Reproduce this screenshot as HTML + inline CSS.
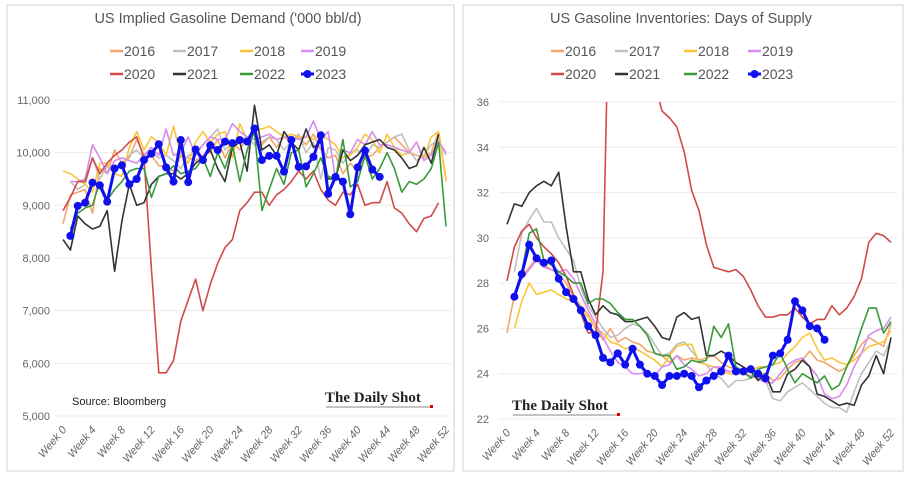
<!DOCTYPE html>
<html><head><meta charset="utf-8">
<style>
body{margin:0;background:#fff;width:909px;height:480px;overflow:hidden;font-family:"Liberation Sans",sans-serif;}
svg{position:absolute;left:0;top:0}
</style></head>
<body>
<svg id="chart" width="909" height="480" viewBox="0 0 909 480"></svg>
<script>
const weeks = Array.from({length:53},(_,i)=>i);
const tickWeeks = [0,4,8,12,16,20,24,28,32,36,40,44,48,52];
const years = ["2016","2017","2018","2019","2020","2021","2022","2023"];
const colors = {"2016":"#f4a56a","2017":"#c0c0c0","2018":"#f9c53a","2019":"#d98cf0","2020":"#d04a4a","2021":"#333333","2022":"#3a9a3a","2023":"#1010ee"};
// Demand ('000 bbl/d), index = week
const d2016=[8650,9200,9250,9300,8850,9700,9600,10050,9800,9900,10250,9950,9950,9750,9750,9650,9950,9900,9850,9950,10000,10250,9900,10200,10050,10300,10150,10150,10300,10100,10300,10200,10300,10150,10350,10050,9900,9950,9600,9800,9650,9900,9950,10100,10200,10300,10150,10000,9950,9900,10000,10400,9500];
const d2017=[null,9450,9300,9400,9900,9500,9750,9600,9800,9950,10050,9900,10000,9900,9950,9850,9700,9950,10000,10150,10300,10450,10050,10200,10250,10300,10150,10200,10300,10250,10050,10200,10350,10000,10200,9500,10100,10050,9800,10000,10050,9900,10150,10100,10200,10300,10350,10050,9850,9950,10150,10250,9950];
const d2018=[9650,9600,9500,9400,9250,9800,9800,9600,9550,10100,10400,10050,10300,10200,9950,10500,9950,9800,10200,10400,10200,10350,10400,9900,10550,10250,10450,10450,10500,10400,10300,10350,10300,10300,10250,10350,10250,10150,9900,9950,10100,10350,10250,10000,10350,10100,9950,10000,10200,9900,10300,10400,9450];
const d2019=[null,9450,9450,9500,10150,9900,9600,9850,9900,9850,9800,9950,10100,9950,10450,9950,10000,10300,9950,10150,10300,10250,10250,10550,10400,10300,10250,10300,10350,10250,10300,10300,10250,10300,10600,10250,10400,9500,10050,10000,10250,10150,10400,10150,10150,10100,10050,10000,10200,9850,9950,10200,10000];
const d2020=[8900,9150,9450,9450,9900,9600,9800,9950,10050,10200,10300,9900,7800,5820,5820,6050,6800,7200,7600,7000,7500,7900,8200,8350,8900,9050,9250,9250,9000,9200,9300,9450,9650,9500,9650,9300,9100,9000,9250,9200,9400,9000,9050,9050,9450,8950,8850,8650,8500,8750,8800,9050,null];
const d2021=[8350,8150,8800,8650,8550,8600,8900,7750,8700,9400,9000,9050,9400,9550,9600,9600,9500,9600,9800,9900,10050,9700,9450,10100,10200,9650,10900,10050,10150,9950,10400,10200,10050,10450,10100,10200,9500,9500,10050,9850,9950,10150,10200,10250,10100,10050,9900,9700,9750,10100,9800,10350,null];
const d2022=[null,8550,8850,8950,9000,9450,9100,9300,9450,9650,9700,9700,9150,9550,9600,9750,9600,9650,9700,9900,9550,10000,9700,10150,9450,10050,10400,8900,9300,9700,9400,10000,10050,9350,9600,9900,9550,9500,10250,9350,9450,9950,9500,9700,10000,9700,9250,9450,9400,9500,9700,10200,8600];
const d2023=[null,8420,8990,9050,9430,9380,9070,9700,9760,9400,9500,9860,9980,10160,9720,9450,10240,9440,10060,9860,10140,10050,10210,10180,10240,10210,10460,9860,9940,9940,9640,10240,9730,9740,9920,10330,9220,9540,9450,8830,9720,10040,9680,9540];
// Days of supply
const s2016=[25.8,27.5,28.3,28.7,29.1,28.8,28.6,28.4,28.0,27.4,27.0,26.6,26.0,25.5,26.0,25.4,25.6,25.4,25.3,25.0,24.9,24.8,24.5,24.8,24.6,24.7,24.6,24.7,24.8,24.5,24.3,24.2,24.0,23.9,24.0,24.0,23.7,23.8,24.2,24.5,24.6,25.0,24.6,24.5,24.3,24.1,24.3,24.8,25.3,25.6,25.4,25.2,26.2];
const s2017=[null,28.5,30.2,30.8,31.3,30.7,30.7,30.0,29.5,29.0,27.8,27.0,26.5,26.0,25.6,25.7,26.0,26.2,26.1,25.8,25.3,24.8,24.9,25.3,25.4,25.0,24.6,24.4,24.0,23.8,23.4,23.7,23.7,23.8,23.9,23.7,22.9,22.8,23.2,23.4,23.6,23.3,23.0,22.7,22.5,22.5,22.3,23.2,24.0,24.5,25.0,24.8,25.5];
const s2018=[null,26.0,27.2,28.0,27.5,27.6,27.7,27.5,27.3,27.2,26.8,26.5,26.0,25.8,25.4,25.3,25.1,25.2,25.0,24.8,24.6,24.3,24.8,25.2,25.3,25.3,24.5,24.4,24.3,24.2,24.0,24.0,24.0,24.1,24.3,24.3,24.4,24.5,24.9,25.2,25.6,25.8,25.1,24.6,24.7,24.5,24.4,24.6,24.9,25.2,25.3,25.4,25.9];
const s2019=[null,27.6,28.2,28.6,29.0,28.7,28.6,28.5,28.6,28.2,27.5,26.8,26.2,25.6,25.0,24.5,24.3,24.0,24.0,24.1,23.9,24.3,24.4,24.8,24.4,24.2,23.9,24.0,24.3,24.3,24.1,24.1,24.0,23.9,23.8,23.6,23.6,24.0,24.4,24.6,24.7,24.3,23.9,23.1,22.9,23.0,23.5,24.3,24.9,25.7,25.9,26.0,26.5];
const s2020=[28.1,29.6,30.3,30.6,30.0,29.6,29.3,28.9,28.3,27.5,26.7,25.8,25.8,28.5,44,45,46,45,44,42,36.8,35.6,35.3,34.9,33.8,32.1,31.2,29.7,28.7,28.6,28.5,28.6,28.3,27.7,27.0,26.5,26.5,26.6,26.6,26.9,26.5,26.2,26.4,26.4,27.0,26.6,26.9,27.4,28.2,29.8,30.2,30.1,29.8];
const s2021=[30.6,31.5,31.4,32.0,32.3,32.5,32.3,32.9,30.5,28.5,28.5,27.3,26.6,27.0,26.7,26.6,26.3,26.3,26.4,26.5,26.1,25.6,25.5,26.5,26.7,26.4,26.5,24.8,24.8,25.0,24.8,24.5,24.3,24.1,23.7,24.0,23.2,23.2,24.0,24.2,24.6,24.3,23.1,23.0,22.8,22.6,22.7,22.6,23.5,23.9,24.8,24.0,25.6];
const s2022=[null,27.5,28.5,30.2,30.4,29.0,28.8,28.5,28.3,28.0,28.0,27.1,27.3,27.3,27.1,26.7,26.4,26.4,26.1,25.7,24.9,24.8,24.8,24.2,24.3,24.6,24.5,24.6,26.1,25.6,26.2,24.3,24.1,23.8,24.2,24.3,24.4,24.9,24.2,23.6,24.0,23.8,23.6,23.9,23.3,23.5,24.3,25.0,26.0,26.9,26.9,25.8,26.3];
const s2023=[null,27.4,28.4,29.7,29.1,28.9,29.0,28.2,27.6,27.3,26.8,26.1,25.7,24.7,24.5,24.9,24.4,25.1,24.4,24.0,23.9,23.5,23.9,23.9,24.0,23.9,23.4,23.7,23.9,24.1,24.8,24.1,24.1,24.2,24.0,23.8,24.8,24.9,25.5,27.2,26.8,26.1,26.0,25.5];
const demandTicks=[5000,6000,7000,8000,9000,10000,11000];
const supplyTicks=[22,24,26,28,30,32,34,36];

const NS="http://www.w3.org/2000/svg";
const svg=document.getElementById('chart');
function mk(tag,attrs,parent){const e=document.createElementNS(NS,tag);for(const k in attrs)e.setAttribute(k,attrs[k]);(parent||svg).appendChild(e);return e;}

function panel(cfg){
  const g=mk('g',{});
  
  
  const border=mk('rect',{x:cfg.bx,y:5,width:cfg.bw,height:466,fill:'#fff',stroke:'#d9d9d9','stroke-width':1.2},g);
  
  
  const xs=w=>cfg.x0+(cfg.x1-cfg.x0)*w/52;
  const ys=v=>cfg.y1+(cfg.y0-cfg.y1)*(v-cfg.vmin)/(cfg.vmax-cfg.vmin);
  const t=mk('text',{x:cfg.tx,y:23,'text-anchor':'middle','font-size':14.5,fill:'#555'},g);t.textContent=cfg.title;
  
  
  // grid + y ticks
  cfg.ticks.forEach(v=>{
    const gl=mk('line',{x1:cfg.x0-8,x2:cfg.x1+6,y1:ys(v),y2:ys(v),stroke:'#ececec','stroke-width':1},g);
    
    
    const tl=mk('text',{x:cfg.ylx,y:ys(v)+4,'text-anchor':'end','font-size':11,fill:'#666'},g);
    tl.textContent=cfg.fmt(v);
    
    
  });
  tickWeeks.forEach(w=>{
    const x=xs(w),y=ys(cfg.vmin)+14;
    const tl=mk('text',{x:x+4,y:y,'text-anchor':'end','font-size':11,'font-style':'italic',fill:'#666',transform:`rotate(-50 ${x+4} ${y})`},g);
    tl.textContent='Week '+w;
    
    
  });
  // clip
  const cp=mk('clipPath',{id:'clip'+cfg.name},g);
  mk('rect',{x:cfg.x0-5,y:ys(cfg.vmax),width:cfg.x1-cfg.x0+10,height:ys(cfg.vmin)-ys(cfg.vmax)},cp);
  const sg=mk('g',{'clip-path':`url(#clip${cfg.name})`},g);
  years.forEach((yr,i)=>{
    const data=cfg.data[i];
    let d='',pen=false;
    data.forEach((v,w)=>{ if(v==null){pen=false;return;} d+=(pen?'L':'M')+xs(w).toFixed(1)+','+ys(v).toFixed(1); pen=true;});
    const p=mk('path',{d:d,fill:'none',stroke:colors[yr],'stroke-width':yr==='2023'?3:1.6,'stroke-linejoin':'round'},sg);
    
    
    if(yr==='2023'){
      data.forEach((v,w)=>{ if(v==null)return;
        const c=mk('circle',{cx:xs(w),cy:ys(v),r:4,fill:colors[yr]},sg);
        
        
      });
    }
  });
  // legend
  years.forEach((yr,i)=>{
    const col=i%4,row=Math.floor(i/4);
    const lx=cfg.lx[col],ly=row?79:56;
    const lg=mk('g',{},g);
    
    
    mk('line',{x1:lx,x2:lx+13,y1:ly-5,y2:ly-5,stroke:colors[yr],'stroke-width':yr==='2023'?3:2.5},lg);
    if(yr==='2023')mk('circle',{cx:lx+6.5,cy:ly-5,r:4,fill:colors[yr]},lg);
    const tt=mk('text',{x:lx+14,y:ly,'font-size':14,fill:'#555'},lg);tt.textContent=yr;
  });
  return {g,xs,ys};
}

const L=panel({name:'demand-chart',bx:7,bw:447,x0:63,x1:446,y0:100,y1:416,vmin:5000,vmax:11000,ticks:demandTicks,
  fmt:v=>v.toLocaleString('en-US'),ylx:50,tx:228,title:"US Implied Gasoline Demand ('000 bbl/d)",
  lx:[110,173,240,301],data:[d2016,d2017,d2018,d2019,d2020,d2021,d2022,d2023]});
const R=panel({name:'supply-chart',bx:463,bw:440,x0:507,x1:891,y0:102,y1:419,vmin:22,vmax:36,ticks:supplyTicks,
  fmt:v=>String(v),ylx:489,tx:681,title:"US  Gasoline Inventories: Days of Supply",
  lx:[551,615,684,748],data:[s2016,s2017,s2018,s2019,s2020,s2021,s2022,s2023]});

function note(x,y,txt,size,fam,name,extra){const t=mk('text',Object.assign({x:x,y:y,'font-size':size,fill:'#222','font-family':fam},extra||{}));t.textContent=txt;
  
  return t;}
note(72,405,'Source: Bloomberg',11,'Liberation Sans','source-note');
note(325,402,'The Daily Shot',15,'Liberation Serif','watermark-left',{'font-weight':'bold'});
mk('line',{x1:326,x2:430,y1:407,y2:407,stroke:'#888','stroke-width':1});
mk('rect',{x:430,y:405,width:3,height:3,fill:'#d00'});
note(512,410,'The Daily Shot',15,'Liberation Serif','watermark-right',{'font-weight':'bold'});
mk('line',{x1:513,x2:617,y1:415,y2:415,stroke:'#888','stroke-width':1});
mk('rect',{x:617,y:413,width:3,height:3,fill:'#d00'});
</script>
</body></html>
